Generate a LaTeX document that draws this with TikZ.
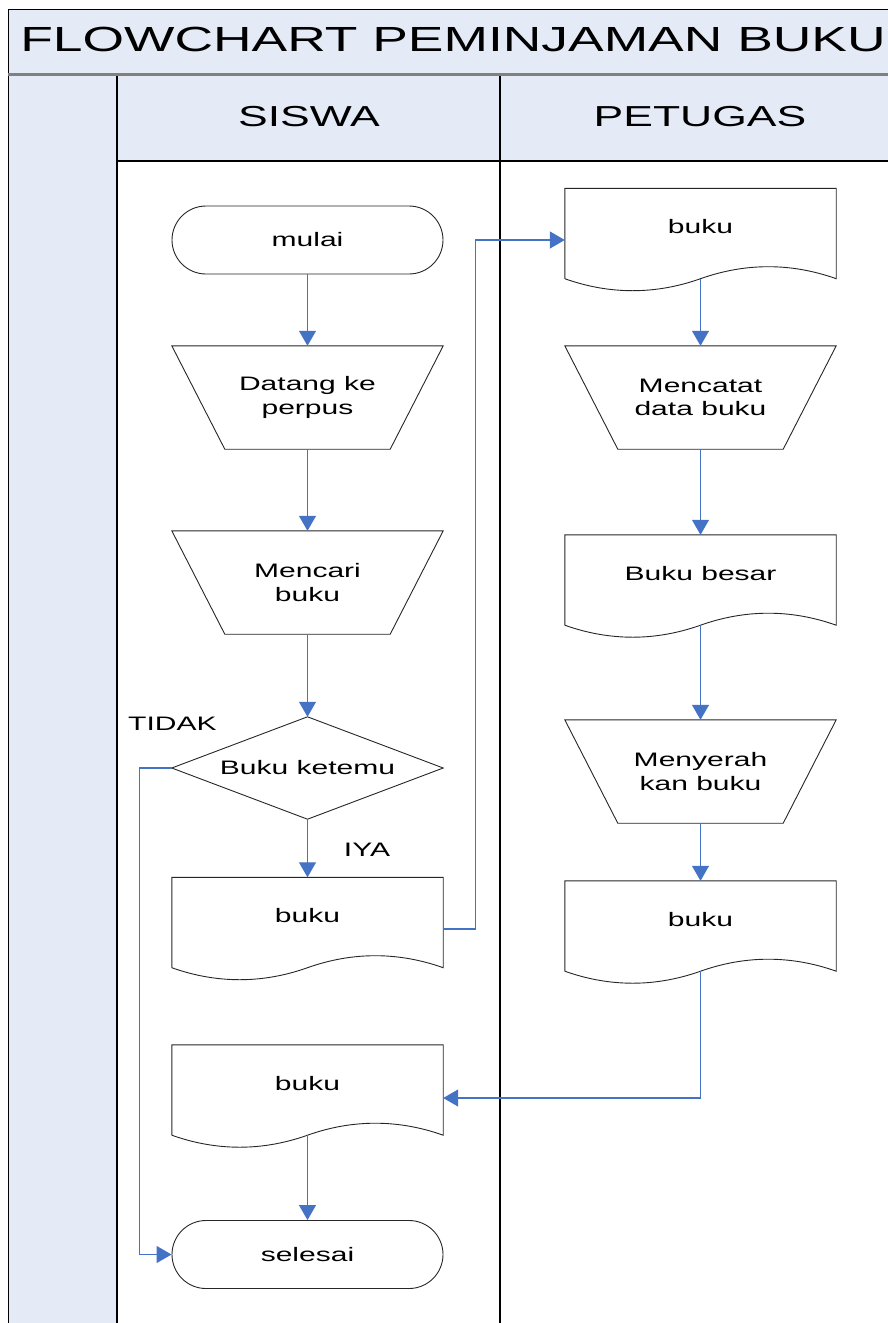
\documentclass[tikz,border=0pt]{standalone}
\usepackage{fontspec}
\setmainfont{Liberation Sans}
\newfontfamily\titlefont{Liberation Sans}[FakeStretch=1.53]
\newfontfamily\headfont{Liberation Sans}[FakeStretch=1.54]
\newfontfamily\bodyfont{Liberation Sans}[FakeStretch=1.54]
\usetikzlibrary{arrows.meta}
\definecolor{lanefill}{RGB}{228,235,247}
\definecolor{flowblue}{RGB}{68,114,196}

\tikzset{
  flow/.style={draw=flowblue, line width=1.2pt, -{Triangle[width=17pt,length=15pt]}},
  box/.style={rectangle, inner sep=0pt, minimum width=271pt, align=center,
    font=\bodyfont\fontsize{19.5}{23.5}\selectfont},
  outline/.style={draw=black!85, line width=0.9pt},
  terminal/.style={box, outline, rounded corners=34pt, minimum height=68pt},
  manual/.style={box, minimum height=103pt, append after command={\pgfextra{
    \draw[outline] (\tikzlastnode.north west) -- (\tikzlastnode.north east)
      -- ([xshift=-53pt]\tikzlastnode.south east) -- ([xshift=53pt]\tikzlastnode.south west) -- cycle;}}},
  decision/.style={box, minimum height=102pt, append after command={\pgfextra{
    \draw[outline] (\tikzlastnode.north) -- (\tikzlastnode.east)
      -- (\tikzlastnode.south) -- (\tikzlastnode.west) -- cycle;}}},
  document/.style={box, minimum height=90pt, text depth=14pt, append after command={\pgfextra{
    \draw[outline] (\tikzlastnode.south west) -- (\tikzlastnode.north west)
      -- (\tikzlastnode.north east) -- (\tikzlastnode.south east)
      .. controls +(-45pt,16pt) and +(45pt,16pt) .. (\tikzlastnode.south)
      .. controls +(-45pt,-16pt) and +(45pt,-16pt) .. (\tikzlastnode.south west);}}},
  label/.style={font=\bodyfont\fontsize{19.5}{23.5}\selectfont, inner sep=0pt},
}

\begin{document}
\begin{tikzpicture}[x=1pt, y=-1pt]
  \useasboundingbox (0,0) rectangle (888,1323);
  \clip (0,0) rectangle (888,1323);

  \fill[lanefill] (8,9) rectangle (900,74);
  \fill[lanefill] (8,75) rectangle (117,1323);
  \fill[lanefill] (117,75) rectangle (900,161);
  \draw[line width=1pt] (8,1323) -- (8,9) -- (900,9);
  \draw[gray, line width=3pt] (8,74) -- (900,74);
  \draw[line width=1.5pt] (117,161) -- (900,161);
  \draw[line width=1.5pt] (117,75.5) -- (117,1323);
  \draw[line width=1.5pt] (500,75.5) -- (500,1323);

  \node[font=\titlefont\fontsize{34.9}{37}\selectfont] (title) at (453,39.2) {FLOWCHART PEMINJAMAN BUKU};
  \node[font=\headfont\fontsize{28.9}{31}\selectfont] (siswa) at (309,117) {SISWA};
  \node[font=\headfont\fontsize{28.9}{31}\selectfont] (petugas) at (700,117) {PETUGAS};

  \node[terminal] (mulai) at (307.5,240) {mulai};
  \node[manual] (datang) at (307.5,397.5) {Datang ke\\perpus};
  \node[manual] (mencari) at (307.5,582.5) {Mencari\\buku};
  \node[decision] (ketemu) at (307.5,768) {Buku ketemu};
  \node[document] (bukuA) at (307.5,922.5) {buku};
  \node[document] (bukuB) at (307.5,1090) {buku};
  \node[terminal] (selesai) at (307.5,1254.5) {selesai};

  \node[document] (bukuC) at (700.5,233.5) {buku};
  \node[manual] (mencatat) at (700.5,397.5) {Mencatat\\data buku};
  \node[document] (besar) at (700.5,580) {Buku besar};
  \node[manual] (menyerah) at (700.5,771.5) {Menyerah\\kan buku};
  \node[document] (bukuD) at (700.5,926) {buku};

  \node[label, anchor=west] (tidak) at (128,724) {TIDAK};
  \node[label] (iya) at (367,850) {IYA};

  \draw[flow] (mulai) -- (datang);
  \draw[flow] (datang) -- (mencari);
  \draw[flow] (mencari) -- (ketemu);
  \draw[flow] (ketemu) -- (bukuA);
  \draw[flow] ([yshift=-6.5pt]bukuA.east) -- ++(32,0) |- ([yshift=-6.5pt]bukuC.west);
  \draw[flow] (bukuC) -- (mencatat);
  \draw[flow] (mencatat) -- (besar);
  \draw[flow] (besar) -- (menyerah);
  \draw[flow] (menyerah) -- (bukuD);
  \draw[flow] (bukuD.south) |- ([yshift=-8pt]bukuB.east);
  \draw[flow] (bukuB) -- (selesai);
  \draw[flow] (ketemu.west) -- ++(-32,0) |- (selesai.west);
\end{tikzpicture}
\end{document}
